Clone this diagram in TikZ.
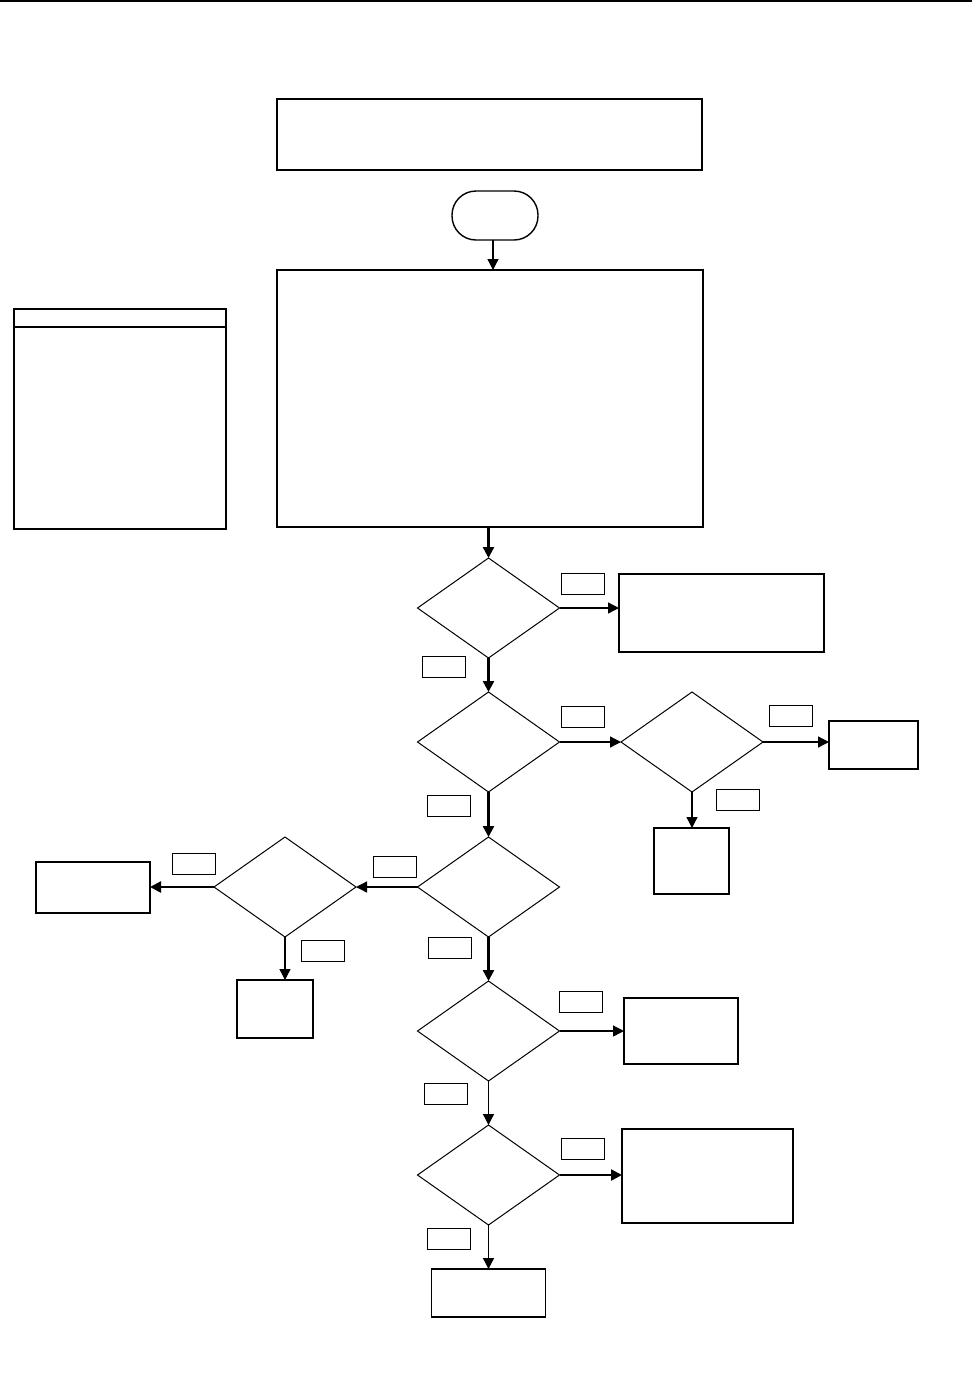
\documentclass[tikz,border=0pt]{standalone}
\usetikzlibrary{shapes.geometric,arrows.meta}
\begin{document}
\begin{tikzpicture}[x=1pt,y=-1pt,
  box/.style={draw,line width=1.4pt,inner sep=0pt,outer sep=0pt,minimum width=#1},
  tag/.style={draw,line width=1pt,inner sep=0pt,outer sep=0pt,minimum width=43pt,minimum height=21pt},
  dia/.style={draw,diamond,line width=1pt,inner sep=0pt,outer sep=0pt,minimum width=142pt,minimum height=100pt},
  conn/.style={line width=1.3pt,-{Triangle[length=11pt,width=11pt]}},
  thickconn/.style={line width=2.4pt,-{Triangle[length=11pt,width=11pt]}}
]
\useasboundingbox (0,0) rectangle (972,1390);
% top rule
\draw[line width=2pt] (0,1) coordinate (ruleL) -- (972,1) coordinate (ruleR);
% top boxes
\node[box=425pt,minimum height=71pt] (title) at (489.5,134.5) {};
\node[draw,line width=1.4pt,rounded corners=24pt,minimum width=86pt,minimum height=49pt,inner sep=0pt,outer sep=0pt] (start) at (495,215.5) {};
\node[box=426pt,minimum height=257pt] (main) at (490,398.5) {};
% left legend box
\node[box=212pt,minimum height=220pt] (legend) at (120,419) {};
\draw[line width=1.4pt] (legend.west |- 0,327) coordinate (hl) -- (legend.east |- 0,327) coordinate (hr);
\draw[line width=2.2pt] (legend.north west) -- (legend.south west);
% diamonds
\node[dia] (d1) at (488.5,608) {};
\node[dia] (d2) at (488.5,742) {};
\node[dia] (d3) at (692,742) {};
\node[dia] (d4) at (488.5,887) {};
\node[dia] (d5) at (285,887) {};
\node[dia] (d6) at (488.5,1031) {};
\node[dia] (d7) at (488.5,1175) {};
% result boxes
\node[box=205pt,minimum height=78pt] (r1) at (721.5,613) {};
\node[box=89pt,minimum height=48pt] (r2) at (873.5,745) {};
\node[box=75pt,minimum height=66pt] (b3) at (691.5,861) {};
\node[box=114pt,minimum height=51pt,line width=1.1pt] (bl) at (93,887.5) {};
\node[box=76pt,minimum height=58pt,line width=1.1pt] (b5) at (275,1009) {};
\node[box=114pt,minimum height=66pt] (r3) at (681,1031) {};
\node[box=171pt,minimum height=94pt,line width=1.1pt] (r4) at (707.5,1176) {};
\node[box=114pt,minimum height=48pt] (fin) at (488.5,1293) {};
% small tag boxes
\node[tag] (t1r) at (582.5,583.5) {};
\node[tag] (t1d) at (443.5,667) {};
\node[tag] (t2r) at (582.5,716.5) {};
\node[tag] (t3r) at (790.5,715.5) {};
\node[tag] (t3d) at (738,799.5) {};
\node[tag] (t2d) at (448.5,805.5) {};
\node[tag] (t4l) at (394.5,866.5) {};
\node[tag] (t5l) at (193.5,863.5) {};
\node[tag] (t5d) at (322.5,950.5) {};
\node[tag] (t4d) at (449.5,947.5) {};
\node[tag] (t6r) at (580.5,1001.5) {};
\node[tag] (t6d) at (445.5,1094) {};
\node[tag] (t7r) at (583,1148.5) {};
\node[tag] (t7d) at (449,1238.5) {};
% connectors
\draw[conn] (start.south -| 493,0) -- (main.north -| 493,0);
\draw[thickconn] (main.south -| d1.north) -- (d1.north);
\draw[conn] (d1.east) -- (d1.east -| r1.west);
\draw[thickconn] (d1.south) -- (d2.north);
\draw[conn] (d2.east) -- (d3.west);
\draw[conn] (d3.east) -- (d3.east -| r2.west);
\draw[conn] (d3.south) -- (d3.south |- b3.north);
\draw[thickconn] (d2.south) -- (d4.north);
\draw[conn] (d4.west) -- (d5.east);
\draw[thickconn] (d5.west) -- (d5.west -| bl.east);
\draw[conn] (d5.south) -- (d5.south |- b5.north);
\draw[thickconn] (d4.south) -- (d6.north);
\draw[conn] (d6.east) -- (d6.east -| r3.west);
\draw[conn] (d6.south) -- (d7.north);
\draw[thickconn] (d7.east) -- (d7.east -| r4.west);
\draw[conn] (d7.south) -- (fin.north);
\end{tikzpicture}
\end{document}
